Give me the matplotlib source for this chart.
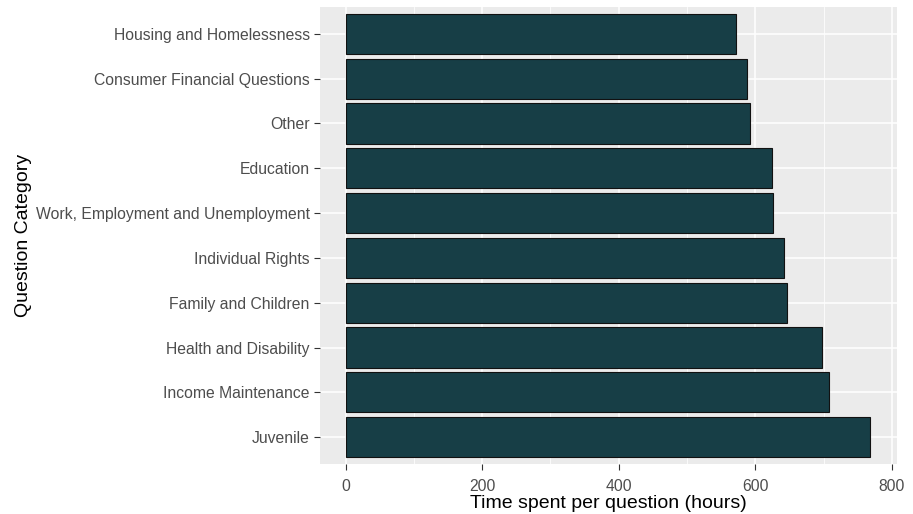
import matplotlib
matplotlib.use("Agg")
import matplotlib.pyplot as plt
import numpy as np

categories = ["Juvenile", "Income Maintenance", "Health and Disability",
              "Family and Children", "Individual Rights",
              "Work, Employment and Unemployment", "Education", "Other",
              "Consumer Financial Questions", "Housing and Homelessness"]
hours = [768.5, 708, 698, 647, 641.5, 626.5, 624.5, 592.5, 588.5, 571.5]
xticks = [0, 200, 400, 600, 800]

plt.rcParams['font.family'] = ['Liberation Sans', 'DejaVu Sans']

fig = plt.figure(figsize=(9.13, 5.14), dpi=100)
L, R, B, T = 319.5 / 913, 896.5 / 913, 1 - 464 / 514, 1 - 7 / 514
ax = fig.add_axes([L, B, R - L, T - B])
ax.set_facecolor('#EBEBEB')

y = np.arange(len(categories))
ax.barh(y, hours, height=0.9, color='#173E46', edgecolor='#111111',
        linewidth=0.8, zorder=3)

xmax = max(hours) * 1.05
ax.set_xlim(-max(hours) * 0.05, xmax)
ax.set_ylim(-0.6, len(categories) - 1 + 0.6)

ax.set_xticks(xticks)
ax.set_xticks([100, 300, 500, 700], minor=True)
ax.set_yticks(y)
ax.set_yticklabels(categories)
ax.grid(True, which='major', color='white', linewidth=1.1, zorder=1)
ax.grid(True, which='minor', axis='x', color='white', linewidth=0.55, zorder=1)
for s in ax.spines.values():
    s.set_visible(False)
ax.tick_params(axis='both', which='major', length=4, width=0.8,
               color='#333333', labelcolor='#4D4D4D', labelsize=11.3, pad=3)
ax.tick_params(axis='x', which='major', pad=6.5)
ax.tick_params(axis='both', which='minor', length=0)

ax.set_xlabel("Time spent per question (hours)", fontsize=14, color='black',
              labelpad=1)
ax.set_ylabel("Question Category", fontsize=14, color='black', labelpad=3)

fig.savefig("out.png", dpi=100)
